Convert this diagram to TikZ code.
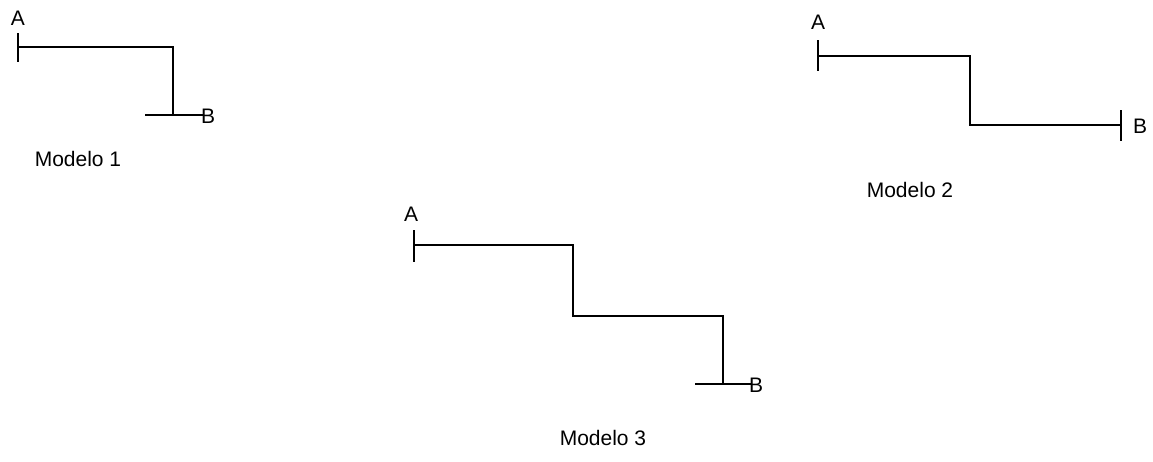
\documentclass[tikz,border=0pt]{standalone}
\usepackage{fontspec}
\setmainfont{Liberation Sans}
\begin{document}
\begin{tikzpicture}[x=1pt,y=-1pt,
  wire/.style={line width=2.8pt,line cap=butt,line join=miter},
  lbl/.style={font=\fontsize{21}{24}\selectfont,inner sep=0pt},
  modelcap/.style={font=\fontsize{21}{24}\selectfont,inner sep=0pt}]
\useasboundingbox (0,0) rectangle (1153,461);
% Model 1
\coordinate (m1t1) at (18,33); \coordinate (m1t2) at (18,62);
\coordinate (m1a) at (18,47); \coordinate (m1b) at (173,47);
\coordinate (m1c) at (173,115); \coordinate (m1l) at (145,115);
\coordinate (m1r) at (203,115);
\draw[wire] (m1t1) -- (m1t2);
\draw[wire] (m1a) -- (m1b) -- (m1c);
\draw[wire] (m1l) -- (m1r);
\node[lbl] (A1) at (18,18) {A};
\node[lbl,anchor=west] (B1) at (201,116) {B};
\node[modelcap] (M1) at (78,159) {Modelo 1};
% Model 2
\coordinate (m2t1) at (818,40); \coordinate (m2t2) at (818,71);
\coordinate (m2a) at (818,56); \coordinate (m2b) at (970,56);
\coordinate (m2c) at (970,125); \coordinate (m2d) at (1121,125);
\coordinate (m2u1) at (1121,110); \coordinate (m2u2) at (1121,141);
\draw[wire] (m2t1) -- (m2t2);
\draw[wire] (m2a) -- (m2b) -- (m2c) -- (m2d);
\draw[wire] (m2u1) -- (m2u2);
\node[lbl] (A2) at (818,22) {A};
\node[lbl,anchor=west] (B2) at (1133,126) {B};
\node[modelcap] (M2) at (910,190) {Modelo 2};
% Model 3
\coordinate (m3t1) at (414,230); \coordinate (m3t2) at (414,262);
\coordinate (m3a) at (414,245); \coordinate (m3b) at (573,245);
\coordinate (m3c) at (573,316); \coordinate (m3d) at (723,316);
\coordinate (m3e) at (723,384); \coordinate (m3l) at (695,384);
\coordinate (m3r) at (751,384);
\draw[wire] (m3t1) -- (m3t2);
\draw[wire] (m3a) -- (m3b) -- (m3c) -- (m3d) -- (m3e);
\draw[wire] (m3l) -- (m3r);
\node[lbl] (A3) at (411,214) {A};
\node[lbl,anchor=west] (B3) at (749,385) {B};
\node[modelcap] (M3) at (603,438) {Modelo 3};
\end{tikzpicture}
\end{document}
